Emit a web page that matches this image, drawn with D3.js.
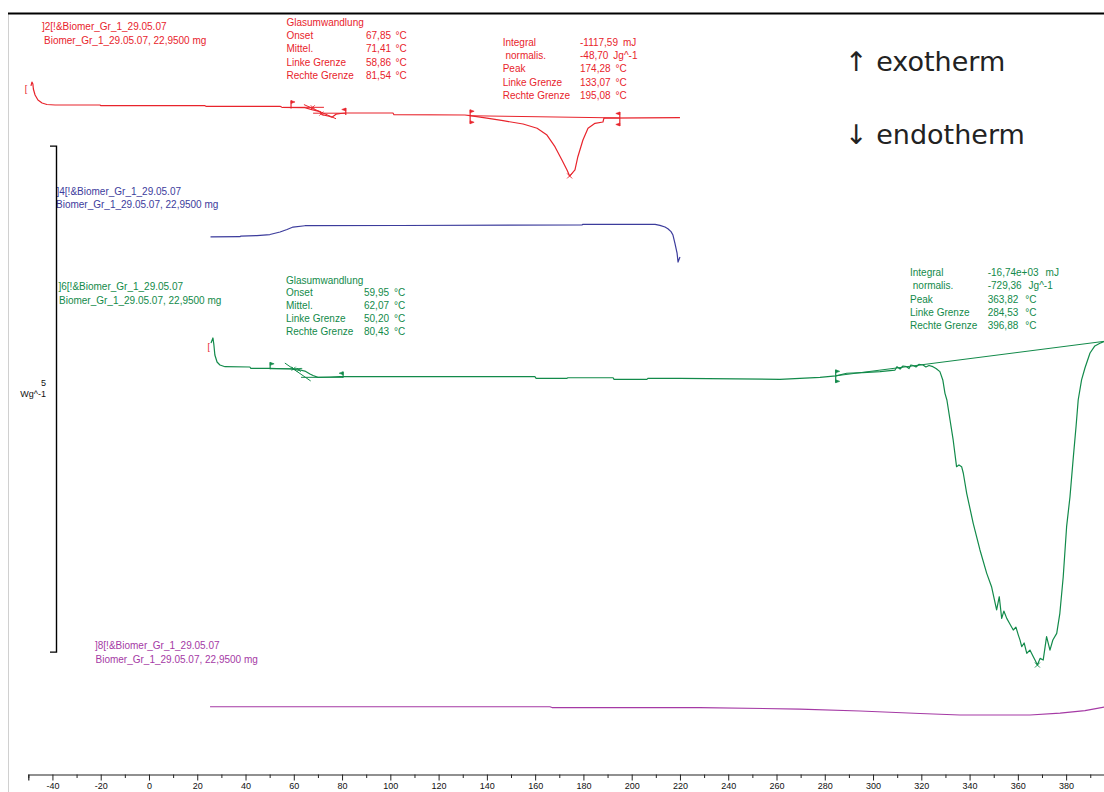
<!DOCTYPE html>
<html>
<head>
<meta charset="utf-8">
<script src="https://cdn.jsdelivr.net/npm/d3@7"></script>
<style>
  html, body { margin: 0; padding: 0; background: #fff; overflow: hidden; }
  svg { display: block; }
  text { white-space: pre; }
</style>
</head>
<body>
<svg id="chart" width="1104" height="792"></svg>
<script>
// ---------------- data ----------------
// temperature axis (°C): ticks every 10, labels every 20
const tempTicks = d3.range(-50, 401, 10);

// vertical stacking offset of each run (W/g)
const runOffsets = { r2: -0.9, r4: -2.1, r6: -3.6, r8: -6.855 };

// run ]2[ : [temperature °C, heat flow W/g]
const run2 = [
  [-48.9, 0.179], [-48.5, 0.218], [-48.1, 0.198], [-47.9, 0.149], [-47.2, 0.090],
  [-46.0, 0.040], [-44.3, 0.011], [-42.3, -0.004], [-38.9, -0.009], [-20.3, -0.009],
  [-19.9, -0.016], [23.2, -0.016], [23.6, -0.022], [54.3, -0.022], [55.1, -0.032],
  [64.6, -0.036], [67.5, -0.055], [70.9, -0.075], [71.7, -0.105], [74.6, -0.120],
  [75.8, -0.130], [77.5, -0.100], [79.5, -0.093], [81.6, -0.088], [101.1, -0.088],
  [101.5, -0.105], [130.9, -0.108], [133.0, -0.115], [140.0, -0.138], [146.7, -0.164],
  [155.0, -0.197], [160.8, -0.239], [164.9, -0.306], [168.2, -0.421], [171.1, -0.553],
  [173.2, -0.651], [174.3, -0.711], [176.5, -0.651], [177.7, -0.520], [179.8, -0.355],
  [181.9, -0.239], [184.8, -0.190], [188.1, -0.177], [188.5, -0.138], [220.0, -0.134]
];

// run ]4[
const run4 = [
  [25.5, -0.113], [37.7, -0.110], [38.1, -0.104], [44.7, -0.099], [50.1, -0.089],
  [54.3, -0.064], [57.2, -0.039], [59.7, -0.015], [64.6, -0.002], [104.0, 0.000],
  [179.4, 0.005], [179.8, 0.012], [209.7, 0.012], [211.7, 0.002], [213.8, -0.015],
  [215.0, -0.032], [216.3, -0.060], [217.1, -0.094], [217.9, -0.173], [218.8, -0.272],
  [219.2, -0.361], [220.0, -0.311]
];

// run ]6[
const run6 = [
  [25.7, 0.339], [26.5, 0.389], [26.9, 0.320], [27.3, 0.221], [28.2, 0.151],
  [29.4, 0.122], [31.5, 0.105], [41.8, 0.102], [42.2, 0.089], [50.1, 0.089],
  [58.4, 0.082], [62.6, 0.072], [64.6, 0.062], [66.7, 0.033], [68.0, 0.018],
  [70.0, 0.000], [75.0, 0.003], [79.1, 0.006], [159.9, 0.006], [160.4, -0.010],
  [173.2, -0.010], [173.6, -0.004], [192.3, -0.004], [192.7, -0.020], [206.3, -0.020],
  [206.8, -0.010], [220.0, -0.010], [261.4, -0.020], [278.0, 0.000], [284.6, 0.015],
  [289.1, 0.040], [295.8, 0.046], [302.9, 0.056], [309.1, 0.072], [309.9, 0.105],
  [311.2, 0.082], [312.4, 0.112], [313.9, 0.105], [314.9, 0.087], [315.7, 0.122],
  [316.6, 0.117], [317.8, 0.102], [319.0, 0.127], [320.7, 0.122], [321.9, 0.102],
  [323.2, 0.117], [324.8, 0.105], [326.1, 0.087], [327.7, 0.056], [328.9, -0.026],
  [329.8, -0.158], [330.6, -0.224], [331.9, -0.422], [333.2, -0.619], [334.6, -0.883],
  [335.6, -0.866], [336.7, -0.883], [337.4, -0.948], [338.8, -1.146], [341.5, -1.443],
  [344.3, -1.706], [347.1, -1.937], [349.1, -2.069], [351.2, -2.299], [352.3, -2.168],
  [353.3, -2.382], [354.2, -2.310], [355.4, -2.382], [356.7, -2.438], [358.1, -2.497],
  [359.2, -2.468], [360.2, -2.547], [360.9, -2.597], [361.6, -2.662], [362.6, -2.625],
  [363.7, -2.727], [365.0, -2.695], [366.4, -2.761], [367.1, -2.794], [368.1, -2.843],
  [369.2, -2.777], [370.5, -2.794], [371.9, -2.563], [373.3, -2.695], [374.5, -2.596],
  [376.1, -2.530], [377.4, -2.332], [378.8, -1.970], [380.2, -1.476], [381.6, -1.180],
  [383.0, -0.784], [384.1, -0.488], [385.0, -0.224], [386.4, -0.026], [387.8, 0.092],
  [389.9, 0.240], [391.9, 0.310], [394.0, 0.336], [395.7, 0.354], [398.2, 0.368]
];

// run ]8[
const run8 = [
  [25.3, 0.000], [166.1, 0.000], [167.0, -0.008], [228.0, -0.008], [269.7, -0.023],
  [294.6, -0.042], [319.5, -0.067], [336.0, -0.082], [365.0, -0.082], [377.5, -0.063],
  [387.8, -0.038], [395.7, -0.003], [400.0, 0.010]
];

// evaluation results
const glass2 = [["Onset", "67,85", "°C"], ["Mittel.", "71,41", "°C"], ["Linke Grenze", "58,86", "°C"], ["Rechte Grenze", "81,54", "°C"]];
const glass2Limits = [58.86, 81.54];
const glass2Onset = 67.85, glass2Mid = 71.41;
const peak2 = [["Integral", "-1117,59", "mJ"], [" normalis.", "-48,70", "Jg^-1"], ["Peak", "174,28", "°C"], ["Linke Grenze", "133,07", "°C"], ["Rechte Grenze", "195,08", "°C"]];
const peak2Limits = [133.07, 195.08];
const peak2Temp = 174.28;

const glass6 = [["Onset", "59,95", "°C"], ["Mittel.", "62,07", "°C"], ["Linke Grenze", "50,20", "°C"], ["Rechte Grenze", "80,43", "°C"]];
const glass6Limits = [50.20, 80.43];
const glass6Onset = 59.95, glass6Mid = 62.07;
const peak6 = [["Integral", "-16,74e+03", "mJ"], [" normalis.", "-729,36", "Jg^-1"], ["Peak", "363,82", "°C"], ["Linke Grenze", "284,53", "°C"], ["Rechte Grenze", "396,88", "°C"]];
const peak6Limits = [284.53, 396.88];

const sampleLine = "Biomer_Gr_1_29.05.07, 22,9500 mg";
const runTags = { r2: "]2[!&Biomer_Gr_1_29.05.07", r4: "]4[!&Biomer_Gr_1_29.05.07", r6: "]6[!&Biomer_Gr_1_29.05.07", r8: "]8[!&Biomer_Gr_1_29.05.07" };

// scale bar: 5 W/g
const scaleBarValue = 5;
const scaleBarTop = -1.315;

// ---------------- drawing ----------------
const colors = { r2: "#e8242c", r4: "#3c3c9c", r6: "#128a4a", r8: "#a53aa5" };
const FONT = "'Liberation Sans', Arial, sans-serif";

const svg = d3.select("#chart");
const W = 1104, H = 792;

const x = d3.scaleLinear().domain([-50, 400]).range([28.3, 1114.4]);
const y = d3.scaleLinear().domain([0, -7.8]).range([13, 802.36]);

// frame
svg.append("line").attr("x1", 8.5).attr("x2", 8.5).attr("y1", 13).attr("y2", H)
  .attr("stroke", "#d0d0d0").attr("stroke-width", 1);
svg.append("line").attr("x1", 8).attr("x2", W).attr("y1", 13.5).attr("y2", 13.5)
  .attr("stroke", "#000").attr("stroke-width", 2);

// temperature axis
const axis = d3.axisBottom(x)
  .tickValues(tempTicks)
  .tickSizeOuter(0)
  .tickSize(6)
  .tickFormat(d => (d % 20 === 0 ? String(d) : ""));
const gAxis = svg.append("g").attr("transform", "translate(0,774.5)").call(axis);
gAxis.select(".domain").attr("stroke", "#222").attr("stroke-width", 1.2);
gAxis.selectAll(".tick line").attr("stroke", "#222")
  .attr("y2", d => (d % 20 === 0 ? 6 : 3.5));
gAxis.selectAll(".tick text")
  .attr("font-family", FONT).attr("font-size", 9).attr("fill", "#111")
  .attr("y", 8).attr("dy", "0.71em");

// helpers
function valueAt(data, t) {
  const i = d3.bisector(d => d[0]).left(data, t);
  if (i <= 0) return data[0][1];
  if (i >= data.length) return data[data.length - 1][1];
  const a = data[i - 1], b = data[i];
  return a[1] + (b[1] - a[1]) * (t - a[0]) / (b[0] - a[0]);
}
function lineFor(offset) {
  return d3.line().x(d => x(d[0])).y(d => y(d[1] + offset));
}
function drawCurve(data, key) {
  svg.append("path").datum(data)
    .attr("d", lineFor(runOffsets[key]))
    .attr("fill", "none").attr("stroke", colors[key])
    .attr("stroke-width", 1.2).attr("stroke-linejoin", "round");
}
function segment(p0, p1, key) {
  svg.append("path").datum([p0, p1])
    .attr("d", lineFor(runOffsets[key]))
    .attr("fill", "none").attr("stroke", colors[key]).attr("stroke-width", 1);
}
// limit flag: vertical tick with small pennant(s)
function flag(data, key, t, dir, top, bottom, both) {
  const px = x(t), py = y(valueAt(data, t) + runOffsets[key]);
  const g = svg.append("g").attr("fill", colors[key]).attr("stroke", colors[key]);
  g.append("line").attr("x1", px).attr("x2", px).attr("y1", py - top).attr("y2", py + bottom)
    .attr("stroke-width", 1.2);
  const pen = yy => `M${px},${yy} L${px + dir * 4},${yy + 1.5} L${px},${yy + 3} Z`;
  g.append("path").attr("d", pen(py - top)).attr("stroke-width", 0.6);
  if (both) g.append("path").attr("d", pen(py + bottom - 3)).attr("stroke-width", 0.6);
}
function cross(t, v, key, s) {
  const px = x(t), py = y(v + runOffsets[key]);
  svg.append("path")
    .attr("d", `M${px - s},${py - s} L${px + s},${py + s} M${px - s},${py + s} L${px + s},${py - s}`)
    .attr("stroke", colors[key]).attr("stroke-width", 0.9).attr("fill", "none");
}
function textLine(str, px, py, key, size) {
  return svg.append("text").attr("x", px).attr("y", py).attr("dy", "0.35em")
    .attr("font-family", FONT).attr("font-size", size || 10)
    .attr("fill", colors[key]).text(str);
}
function resultBlock(rows, key, lx, vx, gap, y0, step, title) {
  let yy = y0;
  if (title) { textLine(title, lx, yy, key); yy += step; }
  rows.forEach(r => {
    textLine(r[0], lx, yy, key);
    const t = textLine(r[1], vx, yy, key);
    t.append("tspan").attr("dx", gap).text(r[2]);
    yy += step;
  });
}

// run ]2[
drawCurve(run2, "r2");
segment([peak2Limits[0], valueAt(run2, peak2Limits[0])], [peak2Limits[1], valueAt(run2, peak2Limits[1])], "r2");
segment([55.5, -0.032], [72.5, -0.032], "r2");
segment([68.0, -0.090], [81.54, -0.090], "r2");
segment([64.2, -0.005], [77.5, -0.145], "r2");
flag(run2, "r2", glass2Limits[0], 1, 7, 1, false);
flag(run2, "r2", glass2Limits[1], -1, 5, 2, false);
flag(run2, "r2", peak2Limits[0], 1, 6, 8, true);
flag(run2, "r2", peak2Limits[1], -1, 6, 8, true);
cross(glass2Onset, -0.032, "r2", 2);
cross(glass2Mid, valueAt(run2, glass2Mid), "r2", 2);
cross(peak2Temp, valueAt(run2, peak2Temp), "r2", 2.5);
textLine("[", x(-51.5), y(0.15 + runOffsets.r2), "r2", 9);

// run ]4[
drawCurve(run4, "r4");

// run ]6[
drawCurve(run6, "r6");
segment([peak6Limits[0], valueAt(run6, peak6Limits[0])], [peak6Limits[1], 0.359], "r6");
segment([50.2, 0.085], [63.5, 0.085], "r6");
segment([63.0, 0.0], [80.43, 0.0], "r6");
segment([56.3, 0.141], [67.0, -0.036], "r6");
flag(run6, "r6", glass6Limits[0], 1, 6, 1, false);
flag(run6, "r6", glass6Limits[1], -1, 5, 1, false);
flag(run6, "r6", peak6Limits[0], 1, 6, 7, true);
cross(glass6Onset, 0.085, "r6", 2);
cross(glass6Mid, valueAt(run6, glass6Mid), "r6", 2);
{
  const minPt = run6.reduce((a, b) => (b[1] < a[1] ? b : a));
  cross(minPt[0], minPt[1], "r6", 2.5);
}
textLine("[", x(24.2), y(0.3 + runOffsets.r6), "r2", 9);

// run ]8[
drawCurve(run8, "r8");

// run labels
textLine(runTags.r2, 42, 26.7, "r2"); textLine(sampleLine, 44, 40.7, "r2");
textLine(runTags.r4, 56.5, 191.7, "r4"); textLine(sampleLine, 56, 204.3, "r4");
textLine(runTags.r6, 58.5, 286.7, "r6"); textLine(sampleLine, 59, 300.5, "r6");
textLine(runTags.r8, 95, 645, "r8"); textLine(sampleLine, 95.5, 659, "r8");

// evaluation text blocks
resultBlock(glass2, "r2", 286.5, 366, 4.5, 22.7, 13.1, "Glasumwandlung");
resultBlock(peak2, "r2", 502.7, 580, 5, 42.7, 13.1);
resultBlock(glass6, "r6", 286, 364, 5, 280, 12.9, "Glasumwandlung");
resultBlock(peak6, "r6", 910, 987.7, 7, 272.3, 13.35);

// scale bar
const sbTop = y(scaleBarTop), sbBot = y(scaleBarTop - scaleBarValue);
svg.append("path")
  .attr("d", `M50,${sbTop} H56.5 V${sbBot} H50`)
  .attr("fill", "none").attr("stroke", "#000").attr("stroke-width", 1.4);
svg.append("text").attr("x", 46).attr("y", 383).attr("dy", "0.35em").attr("text-anchor", "end")
  .attr("font-family", FONT).attr("font-size", 9).attr("fill", "#111").text(String(scaleBarValue));
svg.append("text").attr("x", 46).attr("y", 394).attr("dy", "0.35em").attr("text-anchor", "end")
  .attr("font-family", FONT).attr("font-size", 9).attr("fill", "#111").text("Wg^-1");

// direction legend
svg.append("text").attr("x", 845).attr("y", 62).attr("dy", "0.35em")
  .attr("font-family", "'DejaVu Sans', sans-serif").attr("font-size", 27).attr("fill", "#222")
  .text("\u2191 exotherm");
svg.append("text").attr("x", 845).attr("y", 135).attr("dy", "0.35em")
  .attr("font-family", "'DejaVu Sans', sans-serif").attr("font-size", 27).attr("fill", "#222")
  .text("\u2193 endotherm");
</script>
</body>
</html>
